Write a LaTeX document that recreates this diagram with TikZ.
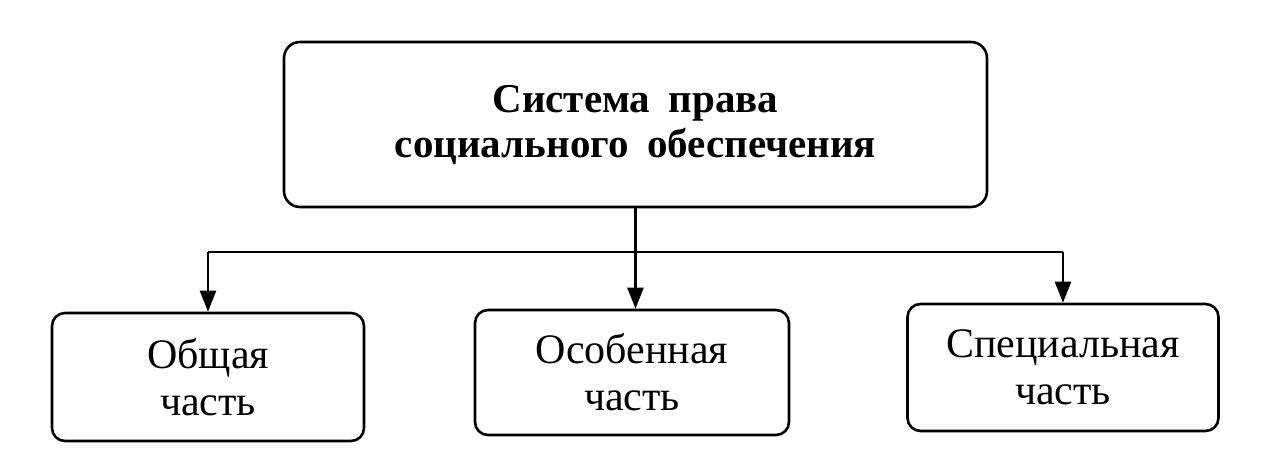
\documentclass[tikz,border=0pt]{standalone}
\usepackage{fontspec}
\setmainfont{Liberation Serif}
\usetikzlibrary{arrows.meta,positioning}
\tikzset{
  box/.style={rectangle, rounded corners=#1, draw=black, line width=2.6pt, align=center,
              inner sep=0pt},
  box/.default={13pt},
  arr/.style={-{Triangle[length=21pt, width=16pt]}, line width=2.4pt, black},
  bus/.style={line width=2.4pt, black},
  part/.style={font=\fontsize{42}{47}\selectfont},
}

\begin{document}
\begin{tikzpicture}[x=1pt, y=-1pt]
\useasboundingbox (0,0) rectangle (1262,464);
% head
\node[box=16pt, minimum width=703pt, minimum height=165pt,
      font=\bfseries\fontsize{41}{45}\selectfont] (sys) at (635.5,124.5)
      {Система\hspace{0.2em} права\\социального\hspace{0.2em} обеспечения};
% parts
\node[box, minimum width=312pt, minimum height=128pt, part] (gen) at (208,377) {Общая\\часть};
\node[box, minimum width=314pt, minimum height=125pt, part] (spec) at (632,372.5) {Особенная\\часть};
\node[box, minimum width=311pt, minimum height=127pt, part] (spl) at (1063,367.5) {Специальная\\часть};
% connectors
\coordinate (bend) at (635.5,252);
\draw[bus] (gen.north |- bend) -- (spl.north |- bend);
\draw[arr] (gen.north |- bend) -- (gen.north);
\draw[arr] (spl.north |- bend) -- (spl.north);
\draw[arr] (sys.south) -- (sys.south |- spec.north);
\end{tikzpicture}
\end{document}
